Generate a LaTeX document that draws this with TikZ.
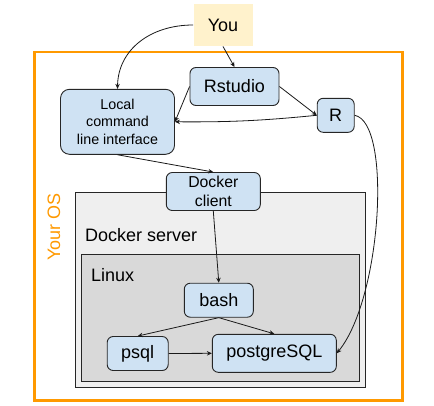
\documentclass[tikz,border=0pt]{standalone}
\usepackage{fontspec}
\setmainfont{Liberation Sans}
\usetikzlibrary{calc,positioning}
\usetikzlibrary{arrows.meta}
\definecolor{boxblue}{RGB}{207,226,243}
\definecolor{youyellow}{RGB}{255,242,204}
\definecolor{osorange}{RGB}{255,153,0}
\definecolor{servergray}{RGB}{239,239,239}
\definecolor{linuxgray}{RGB}{217,217,217}

\begin{document}
\begin{tikzpicture}[x=1pt,y=-1pt,
    app/.style={draw=black!85,fill=boxblue,line width=0.9pt,rounded corners=6pt,align=center,inner sep=0pt,font=\fontsize{18}{21}\selectfont},
    layer/.style={draw=black!85,line width=0.9pt},
    link/.style={-{Stealth[length=5pt,width=4.5pt]},line width=0.8pt,black!90}]
    \useasboundingbox (0,0) rectangle (434,405);
    % outer system
    \draw[osorange,line width=2.7pt] (34.7,52) rectangle (402.3,400.3);
    \node[osorange,rotate=90,inner sep=0pt,font=\fontsize{18}{21}\selectfont] (youros) at (54,226.7) {Your OS};
    \draw[layer,fill=servergray] (75.5,192.5) rectangle (365.5,387);
    \node[anchor=base west,inner sep=0pt,font=\fontsize{18}{21}\selectfont] (server) at (85,241.7) {Docker server};
    \draw[layer,fill=linuxgray] (81.5,254.5) rectangle (359.5,381.5);
    \node[anchor=base west,inner sep=0pt,font=\fontsize{18}{21}\selectfont] (linux) at (91,281.7) {Linux};
    % boxes
    \node[app,draw=none,fill=youyellow,rounded corners=0pt,minimum width=59pt,minimum height=42pt] (you) at (223,25) {You};
    \node[app,minimum width=89pt,minimum height=38pt] (rstudio) at (234.5,86.5) {Rstudio};
    \node[app,rounded corners=9pt,minimum width=114pt,minimum height=65pt,font=\fontsize{14.3}{17.5}\selectfont] (cli) at (117.5,121.8) {Local\\command\\line interface};
    \node[app,minimum width=37pt,minimum height=34pt] (r) at (335.7,115.3) {R};
    \node[app,minimum width=94pt,minimum height=38pt,font=\fontsize{15.8}{19}\selectfont] (client) at (213.3,191.5) {Docker\\client};
    \node[app,minimum width=69pt,minimum height=34pt] (bash) at (218.8,300.2) {bash};
    \node[app,minimum width=61pt,minimum height=34pt] (psql) at (137.7,353.5) {psql};
    \node[app,minimum width=124pt,minimum height=38pt] (pg) at (274.3,353.3) {postgreSQL};
    % connections
    \draw[link] (you.west) .. controls (150,25) and (118,50) .. (cli.north);
    \draw[link] (you.south) -- (rstudio.north);
    \draw[link] (rstudio.west) -- (cli.east);
    \draw[link] (rstudio.east) -- (r.west);
    \draw[link] (r.west) to[bend left=3] (cli.east);
    \draw[link] (cli.south) -- (client.north);
    \draw[link] (client.south) -- (bash.north);
    \draw[link] (bash.south) -- (psql.north);
    \draw[link] (bash.south) -- (pg.north);
    \draw[link] (psql.east) -- (pg.west);
    \draw[link] (r.east) .. controls (392,122) and (382,298) .. (pg.east);
\end{tikzpicture}
\end{document}
